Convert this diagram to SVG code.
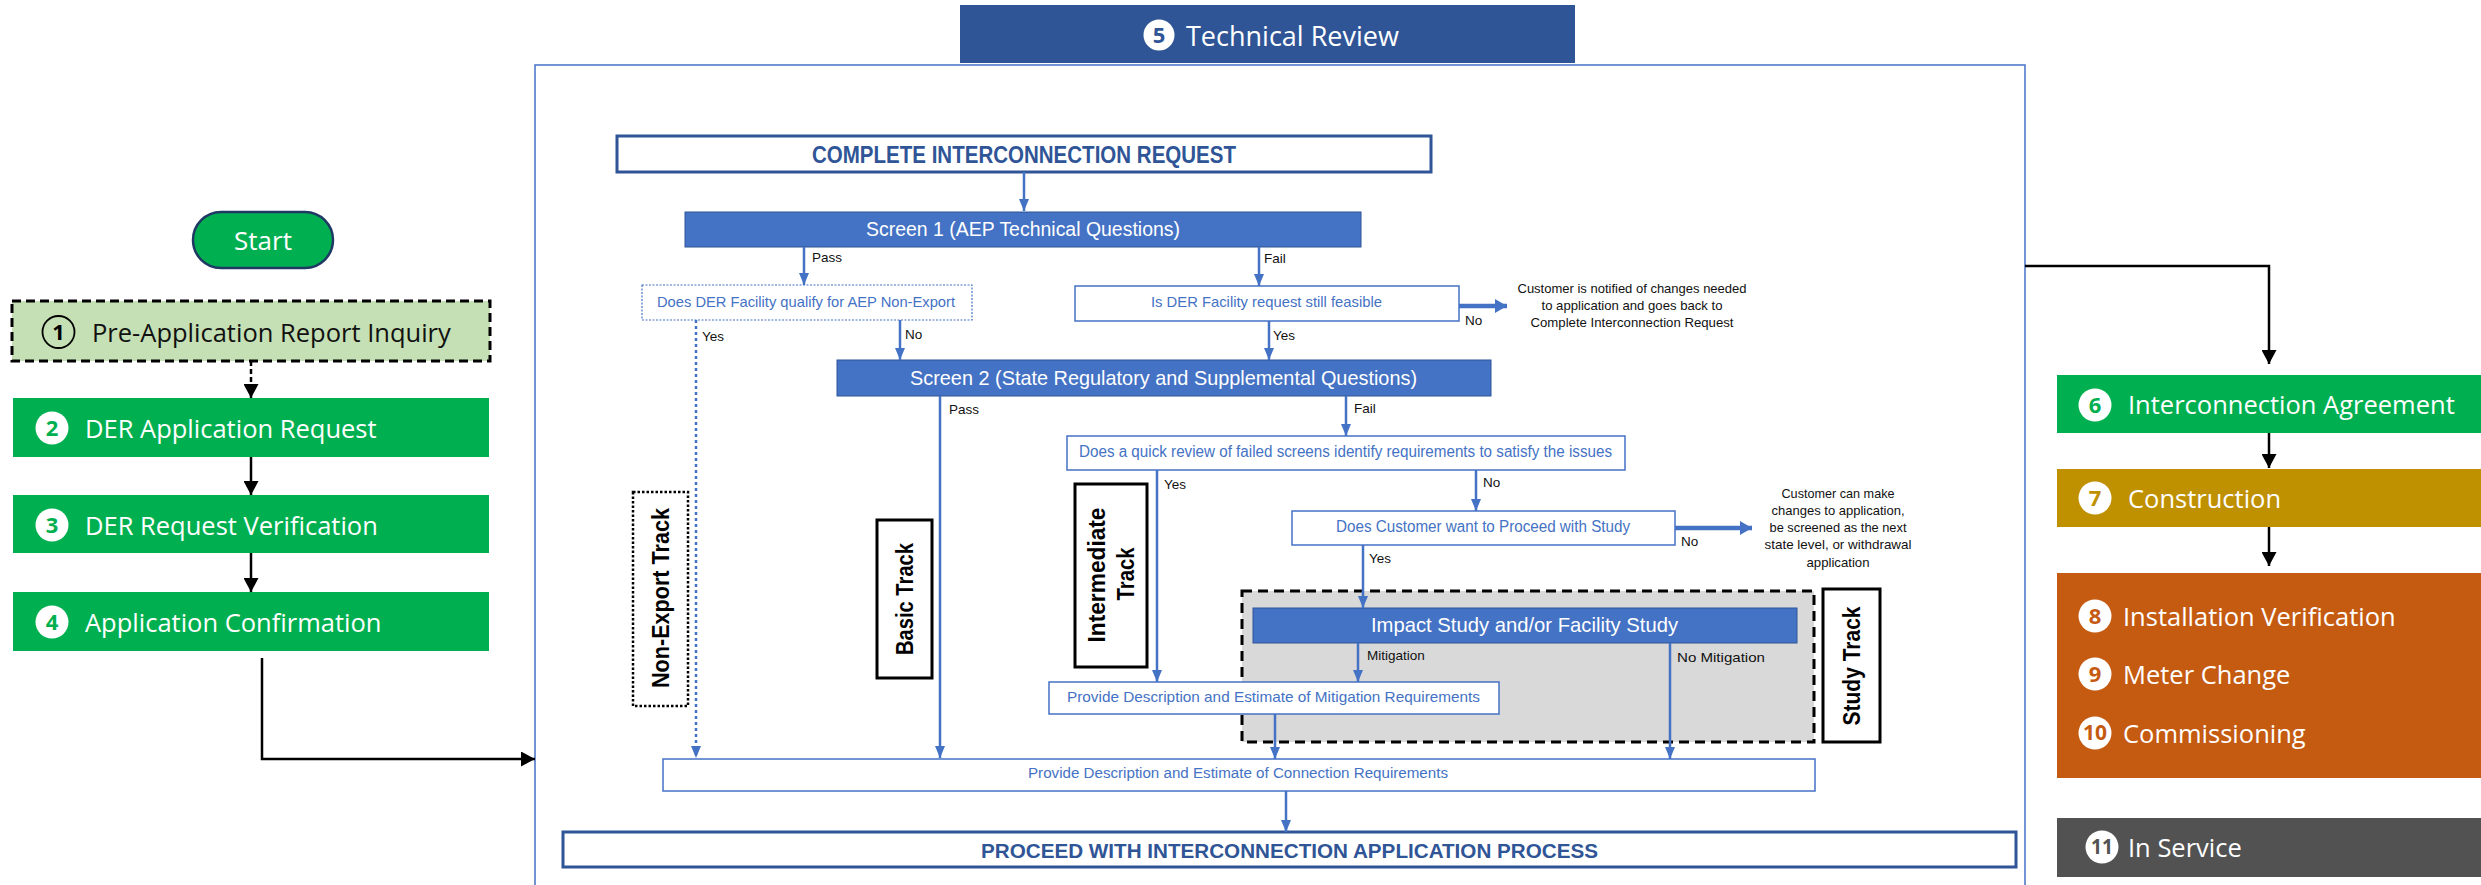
<svg xmlns="http://www.w3.org/2000/svg" width="2481" height="885" viewBox="0 0 2481 885">
<style>
.os{font-family:'Open Sans','Noto Sans',sans-serif}
.ls{font-family:'Liberation Sans',Arial,sans-serif}
.ph{font-family:'Open Sans','Noto Sans',sans-serif;font-size:25.5px;fill:#fff}
.num{font-family:'Open Sans','Noto Sans',sans-serif;font-size:22px;font-weight:700;text-anchor:middle}
.q{fill:#fff;stroke:#4472C4;stroke-width:1.5}
.qt{font-family:'Liberation Sans',Arial,sans-serif;fill:#4472C4;text-anchor:middle}
.scr{fill:#4472C4;stroke:#2F5597;stroke-width:1}
.st{font-family:'Liberation Sans',Arial,sans-serif;fill:#fff;text-anchor:middle}
.lbl{font-family:'Liberation Sans',Arial,sans-serif;font-size:13.5px;fill:#111}
.note{font-family:'Liberation Sans',Arial,sans-serif;font-size:13px;fill:#111;text-anchor:middle}
.trk{font-family:'Liberation Sans',Arial,sans-serif;font-size:23px;font-weight:700;fill:#000;text-anchor:middle}
.bl{stroke:#4472C4;stroke-width:2.5;fill:none;marker-end:url(#ab)}
.blk{stroke:#000;stroke-width:2.5;fill:none;marker-end:url(#ak)}
.big{font-family:'Liberation Sans',Arial,sans-serif;font-weight:700;fill:#2F5597;text-anchor:middle}
</style>
<defs>
<marker id="ab" viewBox="0 0 12 10" refX="12" refY="5" markerWidth="12" markerHeight="10" markerUnits="userSpaceOnUse" orient="auto"><path d="M0,0 L12,5 L0,10 z" fill="#4472C4"/></marker>
<marker id="abt" viewBox="0 0 12 14" refX="12" refY="7" markerWidth="12" markerHeight="14" markerUnits="userSpaceOnUse" orient="auto"><path d="M0,0 L12,7 L0,14 z" fill="#4472C4"/></marker>
<marker id="ak" viewBox="0 0 14 15" refX="14" refY="7.5" markerWidth="14" markerHeight="15" markerUnits="userSpaceOnUse" orient="auto"><path d="M0,0 L14,7.5 L0,15 z" fill="#000"/></marker>
</defs>
<rect width="2481" height="885" fill="#fff"/>

<!-- Left column -->
<g id="start">
<rect x="193" y="212" width="140" height="56" rx="28" fill="#00B050" stroke="#1F3864" stroke-width="2.5"/>
<text class="os" x="263" y="250" font-size="26" fill="#fff" text-anchor="middle">Start</text>
</g>
<g id="step1">
<rect x="12" y="301" width="478" height="60" fill="#C5E0B4" stroke="#000" stroke-width="3" stroke-dasharray="9,5"/>
<circle cx="58.5" cy="332" r="16" fill="none" stroke="#000" stroke-width="1.8"/>
<text class="num" x="58.5" y="340" fill="#000" font-weight="400">1</text>
<text class="os" x="92" y="342" font-size="25.5" fill="#111">Pre-Application Report Inquiry</text>
</g>
<g id="step2">
<rect x="13" y="398" width="476" height="59" fill="#00B050"/>
<circle cx="52" cy="428" r="16.5" fill="#fff"/>
<text class="num" x="52" y="436" fill="#00B050">2</text>
<text class="ph" x="85" y="438">DER Application Request</text>
</g>
<g id="step3">
<rect x="13" y="495" width="476" height="58" fill="#00B050"/>
<circle cx="52" cy="525" r="16.5" fill="#fff"/>
<text class="num" x="52" y="533" fill="#00B050">3</text>
<text class="ph" x="85" y="535">DER Request Verification</text>
</g>
<g id="step4">
<rect x="13" y="592" width="476" height="59" fill="#00B050"/>
<circle cx="52" cy="622" r="16.5" fill="#fff"/>
<text class="num" x="52" y="630" fill="#00B050">4</text>
<text class="ph" x="85" y="632">Application Confirmation</text>
</g>

<!-- Technical review container -->
<g id="step5">
<rect x="535" y="65" width="1490" height="835" fill="#fff" stroke="#4472C4" stroke-width="1.5"/>
<rect x="960" y="5" width="615" height="58" fill="#2F5597"/>
<circle cx="1159" cy="35" r="15.5" fill="#fff"/>
<text class="num" x="1159" y="43" fill="#2F5597">5</text>
<text class="os" x="1186" y="46" font-size="27" fill="#fff">Technical Review</text>
</g>

<!-- Right column -->
<g id="step6">
<rect x="2057" y="375" width="424" height="58" fill="#00B050"/>
<circle cx="2095" cy="405" r="16.5" fill="#fff"/>
<text class="num" x="2095" y="413" fill="#00B050">6</text>
<text class="ph" x="2128" y="414">Interconnection Agreement</text>
</g>
<g id="step7">
<rect x="2057" y="469" width="424" height="58" fill="#BF9000"/>
<circle cx="2095" cy="498" r="16.5" fill="#fff"/>
<text class="num" x="2095" y="506" fill="#BF9000">7</text>
<text class="ph" x="2128" y="508">Construction</text>
</g>
<g id="step8-10">
<rect x="2057" y="573" width="424" height="205" fill="#C55A11"/>
<circle cx="2095" cy="616" r="16.5" fill="#fff"/>
<text class="num" x="2095" y="624" fill="#C55A11">8</text>
<text class="ph" x="2123" y="626">Installation Verification</text>
<circle cx="2095" cy="674" r="16.5" fill="#fff"/>
<text class="num" x="2095" y="682" fill="#C55A11">9</text>
<text class="ph" x="2123" y="684">Meter Change</text>
<circle cx="2095" cy="733" r="16.5" fill="#fff"/>
<text class="num" x="2095" y="740" fill="#C55A11" font-size="18" textLength="24" lengthAdjust="spacingAndGlyphs">10</text>
<text class="ph" x="2123" y="743">Commissioning</text>
</g>
<g id="step11">
<rect x="2057" y="818" width="424" height="59" fill="#525252"/>
<circle cx="2102" cy="847" r="16.5" fill="#fff"/>
<text class="num" x="2102" y="854" fill="#525252" font-size="18" textLength="22" lengthAdjust="spacingAndGlyphs">11</text>
<text class="ph" x="2128" y="857">In Service</text>
</g>

<!-- Inner flow nodes -->
<g id="complete-request">
<rect x="617" y="136" width="814" height="36" fill="#fff" stroke="#2F5597" stroke-width="3"/>
<text class="big" x="1024" y="163" font-size="23" textLength="424" lengthAdjust="spacingAndGlyphs">COMPLETE INTERCONNECTION REQUEST</text>
</g>
<g id="screen1">
<rect class="scr" x="685" y="212" width="676" height="35"/>
<text class="st" x="1023" y="236" font-size="20" textLength="314" lengthAdjust="spacingAndGlyphs">Screen 1 (AEP Technical Questions)</text>
</g>
<g id="q-nonexport">
<rect x="642" y="285" width="330" height="35" fill="#fff" stroke="#4472C4" stroke-width="1.2" stroke-dasharray="2,1.5"/>
<text class="qt" x="806" y="307" font-size="15" textLength="298" lengthAdjust="spacingAndGlyphs">Does DER Facility qualify for AEP Non-Export</text>
</g>
<g id="q-feasible">
<rect class="q" x="1075" y="286" width="384" height="35"/>
<text class="qt" x="1266.5" y="307" font-size="15" textLength="231" lengthAdjust="spacingAndGlyphs">Is DER Facility request still feasible</text>
</g>
<g id="note-notified">
<text class="note" x="1632" y="293" font-size="12.5" textLength="229" lengthAdjust="spacingAndGlyphs">Customer is notified of changes needed</text>
<text class="note" x="1632" y="310" font-size="12.5" textLength="181" lengthAdjust="spacingAndGlyphs">to application and goes back to</text>
<text class="note" x="1632" y="327" font-size="12.5" textLength="203" lengthAdjust="spacingAndGlyphs">Complete Interconnection Request</text>
</g>
<g id="screen2">
<rect class="scr" x="837" y="360" width="654" height="36"/>
<text class="st" x="1163.5" y="385" font-size="21" textLength="507" lengthAdjust="spacingAndGlyphs">Screen 2 (State Regulatory and Supplemental Questions)</text>
</g>
<g id="q-quickreview">
<rect class="q" x="1067" y="436" width="558" height="34"/>
<text class="qt" x="1345.5" y="457" font-size="16" textLength="533" lengthAdjust="spacingAndGlyphs">Does a quick review of failed screens identify requirements to satisfy the issues</text>
</g>
<g id="q-proceed">
<rect class="q" x="1292" y="511" width="383" height="34"/>
<text class="qt" x="1483" y="532" font-size="16" textLength="294" lengthAdjust="spacingAndGlyphs">Does Customer want to Proceed with Study</text>
</g>
<g id="note-changes">
<text class="note" x="1838" y="498" textLength="113" lengthAdjust="spacingAndGlyphs">Customer can make</text>
<text class="note" x="1838" y="515" textLength="133" lengthAdjust="spacingAndGlyphs">changes to application,</text>
<text class="note" x="1838" y="532" textLength="137" lengthAdjust="spacingAndGlyphs">be screened as the next</text>
<text class="note" x="1838" y="549" textLength="147" lengthAdjust="spacingAndGlyphs">state level, or withdrawal</text>
<text class="note" x="1838" y="567" textLength="63" lengthAdjust="spacingAndGlyphs">application</text>
</g>
<g id="study-track-area">
<rect x="1242" y="591" width="572" height="151" fill="#D9D9D9" stroke="#000" stroke-width="3" stroke-dasharray="10,6"/>
</g>
<g id="impact-study">
<rect class="scr" x="1253" y="608" width="544" height="35"/>
<text class="st" x="1524.5" y="632" font-size="21" textLength="307" lengthAdjust="spacingAndGlyphs">Impact Study and/or Facility Study</text>
</g>
<g id="mitigation-req">
<rect class="q" x="1049" y="682" width="450" height="32"/>
<text class="qt" x="1273.5" y="702" font-size="15" textLength="413" lengthAdjust="spacingAndGlyphs">Provide Description and Estimate of Mitigation Requirements</text>
</g>
<g id="connection-req">
<rect class="q" x="663" y="759" width="1152" height="32"/>
<text class="qt" x="1238" y="778" font-size="14" textLength="420" lengthAdjust="spacingAndGlyphs">Provide Description and Estimate of Connection Requirements</text>
</g>
<g id="proceed-process">
<rect x="563" y="832" width="1453" height="35" fill="#fff" stroke="#2F5597" stroke-width="3"/>
<text class="big" x="1289.5" y="858" font-size="20" textLength="617" lengthAdjust="spacingAndGlyphs">PROCEED WITH INTERCONNECTION APPLICATION PROCESS</text>
</g>

<!-- Track labels -->
<g id="track-nonexport">
<rect x="633" y="492" width="55" height="214" fill="#fff" stroke="#000" stroke-width="2.5" stroke-dasharray="2.5,2"/>
<text class="trk" transform="translate(669,598) rotate(-90)" textLength="180" lengthAdjust="spacingAndGlyphs">Non-Export Track</text>
</g>
<g id="track-basic">
<rect x="877" y="520" width="55" height="158" fill="#fff" stroke="#000" stroke-width="3"/>
<text class="trk" transform="translate(913,599) rotate(-90)" textLength="112" lengthAdjust="spacingAndGlyphs">Basic Track</text>
</g>
<g id="track-intermediate">
<rect x="1075" y="484" width="72" height="183" fill="#fff" stroke="#000" stroke-width="3"/>
<text class="trk" transform="translate(1105,575) rotate(-90)" textLength="135" lengthAdjust="spacingAndGlyphs">Intermediate</text>
<text class="trk" transform="translate(1134,574) rotate(-90)" textLength="53" lengthAdjust="spacingAndGlyphs">Track</text>
</g>
<g id="track-study">
<rect x="1823" y="589" width="57" height="153" fill="#fff" stroke="#000" stroke-width="3"/>
<text class="trk" transform="translate(1860,666) rotate(-90)" textLength="119" lengthAdjust="spacingAndGlyphs">Study Track</text>
</g>

<!-- Connectors -->
<g id="connectors">
<line x1="251" y1="361" x2="251" y2="398" stroke="#000" stroke-width="2.5" stroke-dasharray="5,3" marker-end="url(#ak)"/>
<line class="blk" x1="251" y1="457" x2="251" y2="495"/>
<line class="blk" x1="251" y1="553" x2="251" y2="592"/>
<path class="blk" d="M262,658 V759 H535"/>
<path class="blk" d="M2025,266 H2269 V364" stroke-width="3"/>
<line class="blk" x1="2269" y1="433" x2="2269" y2="468"/>
<line class="blk" x1="2269" y1="527" x2="2269" y2="566"/>

<line class="bl" x1="1024" y1="172" x2="1024" y2="211"/>
<line class="bl" x1="804" y1="247" x2="804" y2="285"/>
<line class="bl" x1="1259" y1="247" x2="1259" y2="286"/>
<line class="bl" x1="900" y1="320" x2="900" y2="360"/>
<line class="bl" x1="1269" y1="321" x2="1269" y2="360"/>
<line class="bl" x1="696" y1="320" x2="696" y2="758" stroke-width="3" stroke-dasharray="3,3"/>
<line class="bl" x1="940" y1="396" x2="940" y2="758"/>
<line class="bl" x1="1346" y1="396" x2="1346" y2="436"/>
<line class="bl" x1="1157" y1="470" x2="1157" y2="682"/>
<line class="bl" x1="1476" y1="470" x2="1476" y2="511"/>
<line class="bl" x1="1363" y1="545" x2="1363" y2="608"/>
<line class="bl" x1="1358" y1="643" x2="1358" y2="682"/>
<line class="bl" x1="1670" y1="643" x2="1670" y2="759"/>
<line class="bl" x1="1275" y1="714" x2="1275" y2="759"/>
<line class="bl" x1="1286" y1="791" x2="1286" y2="832"/>
<line x1="1459" y1="306" x2="1507" y2="306" stroke="#4472C4" stroke-width="4.5" marker-end="url(#abt)"/>
<line x1="1675" y1="528" x2="1752" y2="528" stroke="#4472C4" stroke-width="4.5" marker-end="url(#abt)"/>

<text class="lbl" x="812" y="262">Pass</text>
<text class="lbl" x="1264" y="263">Fail</text>
<text class="lbl" x="702" y="341">Yes</text>
<text class="lbl" x="905" y="339">No</text>
<text class="lbl" x="1273" y="340">Yes</text>
<text class="lbl" x="1465" y="325">No</text>
<text class="lbl" x="949" y="414">Pass</text>
<text class="lbl" x="1354" y="413">Fail</text>
<text class="lbl" x="1164" y="489">Yes</text>
<text class="lbl" x="1483" y="487">No</text>
<text class="lbl" x="1681" y="546">No</text>
<text class="lbl" x="1369" y="563">Yes</text>
<text class="lbl" x="1367" y="660" font-size="15">Mitigation</text>
<text class="lbl" x="1677" y="662" font-size="15" textLength="88" lengthAdjust="spacingAndGlyphs">No Mitigation</text>
</g>
</svg>
